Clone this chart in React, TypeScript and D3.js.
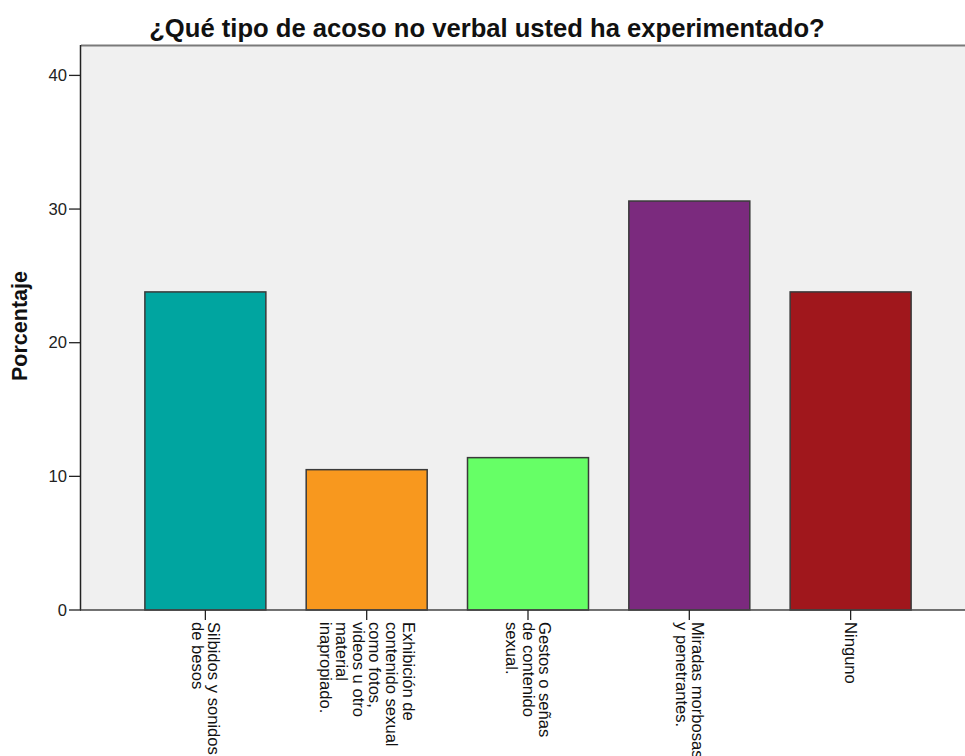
import React from "react";
import * as d3 from "d3";

const categories: string[][] = [
  ["Silbidos y sonidos", "de besos"],
  ["Exhibición de", "contenido sexual", "como fotos,", "videos u otro", "material", "inapropiado."],
  ["Gestos o señas", "de contenido", "sexual."],
  ["Miradas morbosas", "y penetrantes."],
  ["Ninguno"],
];
const values: number[] = [23.8, 10.5, 11.4, 30.6, 23.8];
const colors: string[] = ["#00A5A0", "#F8981E", "#66FF66", "#7B2A7E", "#A0171C"];
const yTicks: number[] = [0, 10, 20, 30, 40];
const title = "¿Qué tipo de acoso no verbal usted ha experimentado?";
const yLabel = "Porcentaje";

const W = 965;
const H = 756;
const left = 81;
const top = 46;
const bottom = 610;
const right = 975;

export default function App() {
  const ids = categories.map((_, i) => String(i));
  const x = d3.scaleBand<string>().domain(ids).range([left, right]).paddingInner(0.25).paddingOuter(0.396);
  const y = d3.scaleLinear().domain([0, 42.2]).range([bottom, top]);
  const font = "Arial, 'Liberation Sans', sans-serif";
  const lh = 16.6;

  return (
    <svg width={W} height={H} style={{ position: "absolute", left: 0, top: 0, background: "#fff" }} fontFamily={font}>
      <rect x={left} y={top} width={W - left} height={bottom - top} fill="#F0F0F0" />
      <line x1={left} x2={W} y1={top - 0.5} y2={top - 0.5} stroke="#7a7a7a" strokeWidth={2} />
      {values.map((v, i) => (
        <rect
          key={i}
          x={x(ids[i])!}
          y={y(v)}
          width={x.bandwidth()}
          height={y(0) - y(v)}
          fill={colors[i]}
          stroke="#3a3a3a"
          strokeWidth={1.5}
        />
      ))}
      <line x1={left - 0.5} x2={left - 0.5} y1={top - 1} y2={bottom} stroke="#222" strokeWidth={1.5} />
      <line x1={left - 1} x2={W} y1={bottom} y2={bottom} stroke="#444" strokeWidth={1.5} />
      {yTicks.map((t) => (
        <g key={t}>
          <line x1={69} x2={left} y1={y(t)} y2={y(t)} stroke="#222" strokeWidth={1.3} />
          <text x={67} y={y(t)} textAnchor="end" dominantBaseline="central" fontSize={16.6} fill="#222">
            {t}
          </text>
        </g>
      ))}
      {categories.map((lines, i) => {
        const cx = x(ids[i])! + x.bandwidth() / 2;
        const n = lines.length;
        return (
          <g key={i}>
            <line x1={cx} x2={cx} y1={bottom} y2={bottom + 10} stroke="#222" strokeWidth={1.3} />
            <g transform={`translate(${cx},622) rotate(90)`}>
              {lines.map((ln, j) => (
                <text key={j} x={0} y={(j - (n - 1) / 2) * lh} dominantBaseline="central" fontSize={16.6} fill="#111">
                  {ln}
                </text>
              ))}
            </g>
          </g>
        );
      })}
      <text x={487} y={37} textAnchor="middle" fontSize={25.6} fontWeight="bold" fill="#111">
        {title}
      </text>
      <text
        transform={`translate(27,326) rotate(-90)`}
        textAnchor="middle"
        fontSize={21.5}
        fontWeight="bold"
        fill="#111"
      >
        {yLabel}
      </text>
    </svg>
  );
}
